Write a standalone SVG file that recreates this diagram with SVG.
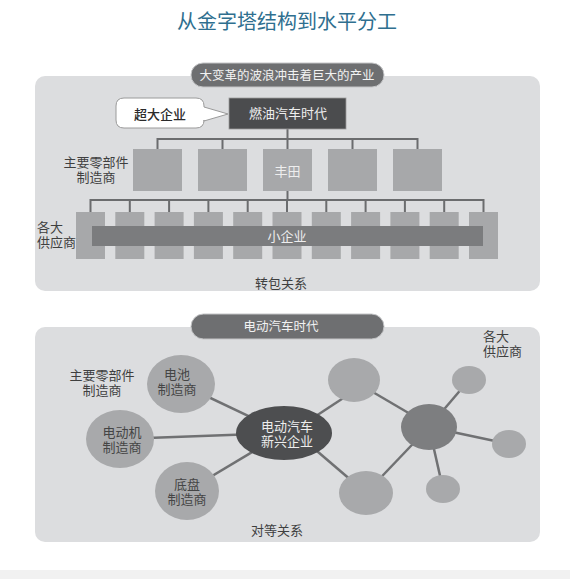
<svg xmlns="http://www.w3.org/2000/svg" width="570" height="579" viewBox="0 0 570 579">
<style>
text{font-family:"Liberation Sans","Noto Sans CJK SC",sans-serif;}
.panel{fill:#dcdddf;}
.pill{fill:#6e6f71;stroke:#c4c5c7;stroke-width:1;}
.pilltxt{fill:#f2f2f2;font-size:12.5px;text-anchor:middle;}
.box{fill:#a7a8aa;}
.lbl{fill:#3f3f3f;font-size:13px;text-anchor:middle;}
.lblL{fill:#3f3f3f;font-size:13px;}
.wtxt{fill:#eeeeee;font-size:13px;text-anchor:middle;}
.tree{stroke:#6b6c6e;stroke-width:2;fill:none;}
.link{stroke:#707173;stroke-width:2.5;fill:none;}
.lc{fill:#a8a9ab;}
.ctxt{fill:#454545;font-size:13px;text-anchor:middle;}
</style>
<rect x="0" y="0" width="570" height="579" fill="#ffffff"/>
<rect x="0" y="570" width="570" height="9" fill="#f1f1f1"/>
<text id="title" x="287" y="29" font-size="20" fill="#2f6f8f" text-anchor="middle">从金字塔结构到水平分工</text>

<!-- Top panel -->
<rect class="panel" x="35" y="76" width="505" height="215" rx="10"/>
<g id="pill-top">
<rect class="pill" x="191" y="63" width="193" height="24" rx="12"/>
<text class="pilltxt" x="287" y="79.5">大变革的波浪冲击着巨大的产业</text>
</g>
<g id="tree-connectors">
<path class="tree" d="M287.5,129V139M157.5,149V139H417.5V149M222.5,139V149M287.5,139V149M352.5,139V149"/>
<path class="tree" d="M287.5,191V200M90.5,212V200H483.5V212M129.8,200V212M169.1,200V212M208.4,200V212M247.7,200V212M287,200V212M326.3,200V212M365.6,200V212M404.9,200V212M444.2,200V212"/>
</g>
<g id="callout">
<path d="M124,98H196Q204,98 204,106V107L228,114L204,121V120Q204,128 196,128H124Q116,128 116,120V106Q116,98 124,98Z" fill="#ffffff" stroke="#9a9a9a" stroke-width="1"/>
<text x="160" y="118.5" font-size="13" fill="#2a2a2a" text-anchor="middle" font-weight="500">超大企业</text>
</g>
<g id="fuel-era">
<rect x="229" y="98" width="117" height="31" fill="#4b4c4e" stroke="#9c9c9c" stroke-width="0.8"/>
<text class="wtxt" x="288" y="118">燃油汽车时代</text>
</g>
<g id="main-parts">
<rect class="box" x="133" y="149" width="49" height="42"/>
<rect class="box" x="198" y="149" width="49" height="42"/>
<rect class="box" x="263" y="149" width="49" height="42"/>
<rect class="box" x="328" y="149" width="49" height="42"/>
<rect class="box" x="393" y="149" width="49" height="42"/>
<text class="wtxt" x="287.5" y="176">丰田</text>
</g>
<g id="suppliers">
<rect class="box" x="76" y="212" width="29" height="47"/>
<rect class="box" x="115.3" y="212" width="29" height="47"/>
<rect class="box" x="154.6" y="212" width="29" height="47"/>
<rect class="box" x="193.9" y="212" width="29" height="47"/>
<rect class="box" x="233.2" y="212" width="29" height="47"/>
<rect class="box" x="272.5" y="212" width="29" height="47"/>
<rect class="box" x="311.8" y="212" width="29" height="47"/>
<rect class="box" x="351.1" y="212" width="29" height="47"/>
<rect class="box" x="390.4" y="212" width="29" height="47"/>
<rect class="box" x="429.7" y="212" width="29" height="47"/>
<rect class="box" x="469" y="212" width="29" height="47"/>
</g>
<g id="small-biz">
<rect x="92" y="226" width="391" height="20" fill="#7b7c7e"/>
<text class="wtxt" x="287" y="240.5">小企业</text>
</g>
<g id="top-labels">
<text class="lbl" x="96" y="167">主要零部件<tspan x="96" dy="15">制造商</tspan></text>
<text class="lblL" x="37" y="232">各大<tspan x="37" dy="14.5">供应商</tspan></text>
<text class="lbl" x="281" y="287.5">转包关系</text>
</g>

<!-- Bottom panel -->
<rect class="panel" x="35" y="327" width="505" height="215" rx="10"/>
<g id="pill-bottom">
<rect class="pill" x="191" y="314" width="193" height="25" rx="12.5"/>
<text class="pilltxt" x="281" y="331" font-size="13">电动汽车时代</text>
</g>
<g id="network-links">
<line class="link" x1="181" y1="384" x2="284" y2="433"/>
<line class="link" x1="120" y1="439" x2="284" y2="433"/>
<line class="link" x1="187" y1="491" x2="284" y2="433"/>
<line class="link" x1="284" y1="437" x2="354" y2="391"/>
<line class="link" x1="290" y1="428" x2="366" y2="493"/>
<line class="link" x1="354" y1="381" x2="429" y2="425"/>
<line class="link" x1="366" y1="493" x2="429" y2="427"/>
<line class="link" x1="429" y1="427" x2="469" y2="380"/>
<line class="link" x1="429" y1="427" x2="509" y2="444"/>
<line class="link" x1="429" y1="427" x2="443" y2="489"/>
</g>
<g id="battery">
<ellipse class="lc" cx="181" cy="384" rx="34" ry="29"/>
<text class="ctxt" x="177" y="379">电池<tspan x="177" dy="15">制造商</tspan></text>
</g>
<g id="motor">
<ellipse class="lc" cx="120" cy="439" rx="34" ry="29"/>
<text class="ctxt" x="122" y="437">电动机<tspan x="122" dy="15">制造商</tspan></text>
</g>
<g id="chassis">
<ellipse class="lc" cx="187" cy="491" rx="32" ry="29"/>
<text class="ctxt" x="187" y="488.5">底盘<tspan x="187" dy="15">制造商</tspan></text>
</g>
<g id="ev-startup">
<ellipse cx="284" cy="433" rx="48" ry="27" fill="#4d4e50"/>
<text class="wtxt" x="287" y="431">电动汽车<tspan x="287" dy="15">新兴企业</tspan></text>
</g>
<g id="supplier-top"><ellipse class="lc" cx="354" cy="380" rx="26" ry="22"/></g>
<g id="supplier-bottom"><ellipse class="lc" cx="366" cy="493" rx="27" ry="22"/></g>
<g id="supplier-hub"><ellipse cx="429" cy="427" rx="28" ry="23" fill="#7d7e80"/></g>
<g id="supplier-s1"><ellipse class="lc" cx="469" cy="380" rx="17" ry="14"/></g>
<g id="supplier-s2"><ellipse class="lc" cx="509" cy="444" rx="17" ry="14"/></g>
<g id="supplier-s3"><ellipse class="lc" cx="443" cy="489" rx="17" ry="14"/></g>
<g id="bottom-labels">
<text class="lbl" x="102" y="380">主要零部件<tspan x="102" dy="15">制造商</tspan></text>
<text class="lblL" x="483" y="341">各大<tspan x="483" dy="14.5">供应商</tspan></text>
<text class="lbl" x="277" y="534.5">对等关系</text>
</g>
</svg>
